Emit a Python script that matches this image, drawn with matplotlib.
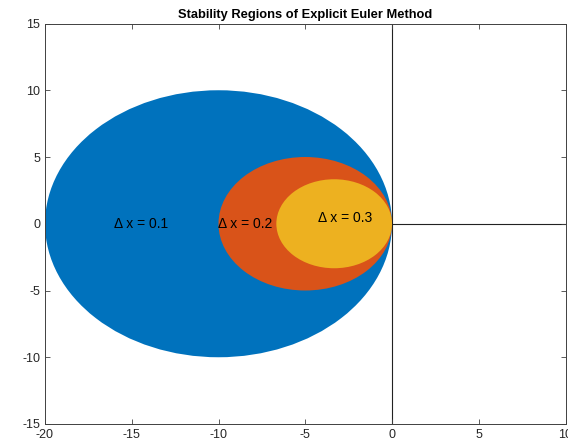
import numpy as np
import matplotlib.pyplot as plt
from matplotlib.patches import Circle

plt.rcParams['font.family'] = ['Liberation Sans', 'DejaVu Sans']
plt.rcParams['axes.unicode_minus'] = False

# step sizes and their fill colours
step_sizes = [0.1, 0.2, 0.3]
colors = ['#0072BD', '#D95319', '#EDB120']
labels = ['\u0394 x = 0.1', '\u0394 x = 0.2', '\u0394 x = 0.3']
label_pos = [(-16.0, 0.0), (-10.0, 0.0), (-4.27, 0.45)]

xticks = [-20, -15, -10, -5, 0, 5, 10]
yticks = [-15, -10, -5, 0, 5, 10, 15]

fig = plt.figure(figsize=(5.68, 4.46), dpi=100)
ax = fig.add_axes([45 / 568, 22 / 446, 520.5 / 568, 400.5 / 446])

# coordinate axes through the origin
ax.plot([0, 0], [-15, 15], color='#222222', lw=0.8, zorder=1)
ax.plot([-20, 10], [0, 0], color='#222222', lw=0.8, zorder=1)

# explicit Euler stability region: |1 + h*lambda| <= 1  -> disc centred at -1/h, radius 1/h
for h, c in zip(step_sizes, colors):
    r = 1.0 / h
    ax.add_patch(Circle((-r, 0), r, facecolor=c, edgecolor='none', zorder=2))

for (tx, ty), t in zip(label_pos, labels):
    ax.text(tx, ty, t, fontsize=10, ha='left', va='center', color='black', zorder=3)

ax.set_xlim(-20, 10)
ax.set_ylim(-15, 15)
ax.set_xticks(xticks)
ax.set_yticks(yticks)
ax.tick_params(direction='in', length=3.6, width=0.6, colors='#404040',
               labelcolor='#262626', labelsize=9, top=True, right=True)
for s in ax.spines.values():
    s.set_color('#404040')
    s.set_linewidth(0.7)

ax.set_title('Stability Regions of Explicit Euler Method', fontsize=9.3,
             fontweight='bold', color='black', pad=4)

fig.savefig('out.png', dpi=100)
